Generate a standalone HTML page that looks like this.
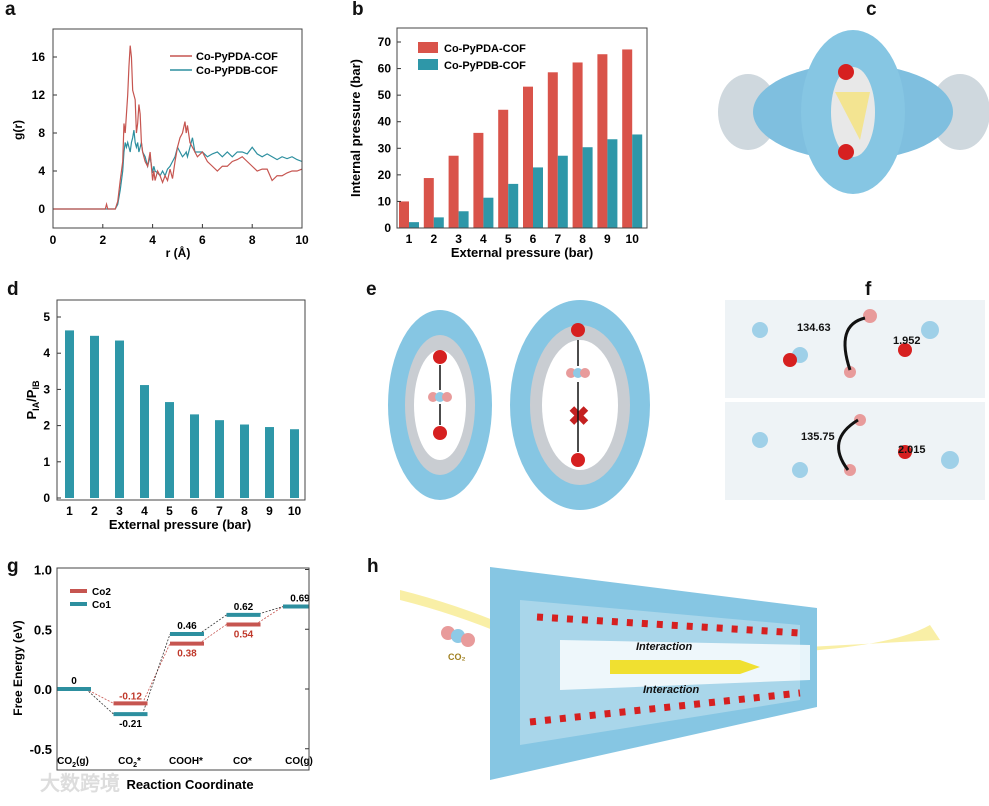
<!DOCTYPE html>
<html><head><meta charset="utf-8">
<style>
body{margin:0;background:#fff;width:989px;height:801px;overflow:hidden;font-family:"Liberation Sans",Arial,sans-serif}
svg text{font-family:"Liberation Sans",Arial,sans-serif;font-weight:bold}
</style></head>
<body>
<svg id="fig" width="989" height="801" viewBox="0 0 989 801" xmlns="http://www.w3.org/2000/svg">
<g id="labels" font-size="19" fill="#111">
<text x="5" y="15">a</text>
<text x="352" y="15">b</text>
<text x="866" y="15">c</text>
<text x="7" y="295">d</text>
<text x="366" y="295">e</text>
<text x="865" y="295">f</text>
<text x="7" y="572">g</text>
<text x="367" y="572">h</text>
</g>
<g id="pa"></g>
<g id="pb"></g>
<g id="pd"></g>
<g id="pg"></g>

<g>
<ellipse cx="748" cy="112" rx="30" ry="38" fill="#cfd8de"/>
<ellipse cx="960" cy="112" rx="30" ry="38" fill="#cfd8de"/>
<ellipse cx="853" cy="112" rx="100" ry="48" fill="#7fbfdf"/>
<ellipse cx="853" cy="112" rx="52" ry="82" fill="#86c6e3"/>
<ellipse cx="853" cy="112" rx="22" ry="45" fill="#e8e8e8"/>
<circle cx="846" cy="72" r="8" fill="#d62020"/><circle cx="846" cy="152" r="8" fill="#d62020"/>
<path d="M835 92 L860 140 L870 92 Z" fill="#f5e27a" opacity="0.8"/>
</g>
<g>
<ellipse cx="440" cy="405" rx="52" ry="95" fill="#86c6e3"/>
<ellipse cx="440" cy="405" rx="35" ry="70" fill="#c9cdd2"/>
<ellipse cx="440" cy="405" rx="26" ry="55" fill="#fff"/>
<circle cx="440" cy="357" r="7" fill="#d62020"/><circle cx="440" cy="433" r="7" fill="#d62020"/>
<circle cx="433" cy="397" r="5" fill="#e89b9b"/><circle cx="440" cy="397" r="5" fill="#8ecae6"/><circle cx="447" cy="397" r="5" fill="#e89b9b"/>
<line x1="440" y1="365" x2="440" y2="390" stroke="#111" stroke-width="1.5"/><line x1="440" y1="404" x2="440" y2="425" stroke="#111" stroke-width="1.5"/>
<ellipse cx="580" cy="405" rx="70" ry="105" fill="#86c6e3"/>
<ellipse cx="580" cy="405" rx="50" ry="80" fill="#c9cdd2"/>
<ellipse cx="580" cy="405" rx="38" ry="65" fill="#fff"/>
<circle cx="578" cy="330" r="7" fill="#d62020"/><circle cx="578" cy="460" r="7" fill="#d62020"/>
<circle cx="571" cy="373" r="5" fill="#e89b9b"/><circle cx="578" cy="373" r="5" fill="#8ecae6"/><circle cx="585" cy="373" r="5" fill="#e89b9b"/>
<text x="568" y="425" font-size="26" fill="#c42020">✖</text>
<line x1="578" y1="340" x2="578" y2="366" stroke="#111" stroke-width="1.5"/><line x1="578" y1="382" x2="578" y2="452" stroke="#111" stroke-width="1.5"/>
</g>
<g>
<rect x="725" y="300" width="260" height="98" fill="#eef3f6"/>
<rect x="725" y="402" width="260" height="98" fill="#eef3f6"/>
<g fill="#9fd0e8"><circle cx="760" cy="330" r="8"/><circle cx="800" cy="355" r="8"/><circle cx="930" cy="330" r="9"/><circle cx="760" cy="440" r="8"/><circle cx="800" cy="470" r="8"/><circle cx="950" cy="460" r="9"/></g>
<g fill="#d62020"><circle cx="790" cy="360" r="7"/><circle cx="905" cy="350" r="7"/><circle cx="905" cy="452" r="7"/></g>
<g fill="#e89b9b"><circle cx="870" cy="316" r="7"/><circle cx="850" cy="372" r="6"/><circle cx="860" cy="420" r="6"/><circle cx="850" cy="470" r="6"/></g>
<path d="M865 318 Q835 325 850 370" fill="none" stroke="#111" stroke-width="3"/>
<path d="M858 420 Q825 440 848 470" fill="none" stroke="#111" stroke-width="3"/>
<text x="797" y="331" font-size="11" fill="#111">134.63</text>
<text x="893" y="344" font-size="11" fill="#111">1.952</text>
<text x="801" y="440" font-size="11" fill="#111">135.75</text>
<text x="898" y="453" font-size="11" fill="#111">2.015</text>
</g>
<g>
<path d="M400 600 Q480 620 560 660 L940 640 L930 625 Q860 665 560 650 Q480 610 400 590 Z" fill="#f6e880" opacity="0.7"/>
<polygon points="490,567 817,608 817,707 490,780" fill="#86c6e3"/>
<polygon points="520,600 800,625 800,700 520,745" fill="#a9d6ea"/>
<g fill="#fff" opacity="0.8"><polygon points="560,640 810,645 810,680 560,690"/></g>
<line x1="537" y1="617" x2="800" y2="633" stroke="#d62020" stroke-width="7" stroke-dasharray="6 9"/>
<line x1="530" y1="722" x2="800" y2="693" stroke="#d62020" stroke-width="7" stroke-dasharray="6 9"/>
<polygon points="610,660 740,660 760,667 740,674 610,674" fill="#f0e030"/>
<circle cx="448" cy="633" r="7" fill="#e89b9b"/><circle cx="458" cy="636" r="7" fill="#8ecae6"/><circle cx="468" cy="640" r="7" fill="#e89b9b"/>
<text x="448" y="660" font-size="9" fill="#a08020" font-weight="normal">CO₂</text>
<text x="636" y="650" font-size="11" font-style="italic" fill="#111">Interaction</text>
<text x="643" y="693" font-size="11" font-style="italic" fill="#111">Interaction</text>
</g>
<g><text x="40" y="790" font-size="20" fill="#ddd" font-family="'Noto Sans CJK SC',sans-serif">大数跨境</text></g>
</svg>
<script>
const NS="http://www.w3.org/2000/svg";
function mk(parent,tag,attrs,name,text){const e=document.createElementNS(NS,tag);for(const k in attrs)e.setAttribute(k,attrs[k]);


if(text!==undefined)e.textContent=text;parent.appendChild(e);return e;}
const RED="#c65550",TEAL="#2d8f9f",BRED="#d9534a",BTEAL="#2e97a8";

const rA=[0,2.1,2.15,2.2,2.25,2.5,2.6,2.7,2.8,2.85,2.9,2.95,3.0,3.05,3.1,3.15,3.2,3.25,3.3,3.35,3.4,3.45,3.5,3.55,3.6,3.7,3.8,3.9,4.0,4.05,4.1,4.2,4.3,4.4,4.5,4.6,4.7,4.8,4.9,5.0,5.1,5.2,5.3,5.35,5.4,5.5,5.6,5.7,5.8,6.0,6.2,6.4,6.6,6.8,7.0,7.2,7.4,7.6,7.8,8.0,8.2,8.4,8.6,8.8,9.0,9.2,9.4,9.6,9.8,10];
const gPDA=[0,0,0.5,0,0,0,0.8,3,5,9,8,10,12,15,17.2,16,12.5,12,11.5,8,9,11,10,7,6,5,4.5,6,3,4,3,4,3.5,2.8,3.5,3,4.2,3.2,5,6.5,7.5,8,9.2,8,8.8,7,6.5,6,5.5,6,5,4.5,4,4.5,4.5,5,5.2,5.5,5,4.5,4,4.2,4.2,3,3.5,3.5,3.8,4,4,4.2];
const gPDB=[0,0,0,0,0,0,0.5,2,4,6,7,6.5,7,6.5,6,7,7.5,8.3,7,6.5,7,6,6.5,7,6,5.5,4.5,5.5,3.8,4.5,4,3.8,3.5,4,3.5,4.2,4.5,5,5.5,6.5,6,5.5,5.8,6,5.5,6.5,7.5,6,6,6,5.5,5.8,6,5.5,6,5.5,6,6,5.8,6.5,5.8,5.5,5.8,5.5,5.2,5.5,5.3,5.5,5.2,5];
const aXt=[0,2,4,6,8,10], aYt=[0,4,8,12,16];
(function(){const g=document.getElementById('pa');const x0=53,x1=302,y0=29,y1=228;
const X=v=>x0+(x1-x0)*v/10, Y=v=>209-v*9.5;
aXt.forEach(t=>{mk(g,'line',{x1:X(t),x2:X(t),y1:y1,y2:y1-4,stroke:'#333'},'x-tick');mk(g,'text',{x:X(t),y:y1+16,'font-size':12,'text-anchor':'middle'},'x-tick-label',t);});
aYt.forEach(t=>{mk(g,'line',{x1:x0,x2:x0+4,y1:Y(t),y2:Y(t),stroke:'#333'},'y-tick');mk(g,'text',{x:x0-8,y:Y(t)+4,'font-size':12,'text-anchor':'end'},'y-tick-label',t);});
const p1=rA.map((r,i)=>X(r)+','+Y(gPDA[i])).join(' '),p2=rA.map((r,i)=>X(r)+','+Y(gPDB[i])).join(' ');
mk(g,'polyline',{points:p2,fill:'none',stroke:TEAL,'stroke-width':1.2},'series-co-pypdb-cof');
mk(g,'polyline',{points:p1,fill:'none',stroke:RED,'stroke-width':1.2},'series-co-pypda-cof');
mk(g,'rect',{x:x0,y:y0,width:x1-x0,height:y1-y0,fill:'none',stroke:'#444','stroke-width':1},'plot-frame');
mk(g,'line',{x1:170,x2:192,y1:56,y2:56,stroke:RED,'stroke-width':1.5},'legend-swatch-pypda');
mk(g,'text',{x:196,y:60,'font-size':11},'legend-label-pypda','Co-PyPDA-COF');
mk(g,'line',{x1:170,x2:192,y1:70,y2:70,stroke:TEAL,'stroke-width':1.5},'legend-swatch-pypdb');
mk(g,'text',{x:196,y:74,'font-size':11},'legend-label-pypdb','Co-PyPDB-COF');
mk(g,'text',{x:178,y:257,'font-size':12,'text-anchor':'middle'},'x-axis-title','r (Å)');
mk(g,'text',{x:22,y:130,'font-size':12,'text-anchor':'middle',transform:'rotate(-90 22 130)'},'y-axis-title','g(r)');
})();

const bCats=[1,2,3,4,5,6,7,8,9,10];
const bPDA=[10,18.8,27.2,35.8,44.5,53.2,58.6,62.3,65.4,67.2];
const bPDB=[2.2,4,6.3,11.4,16.6,22.8,27.2,30.4,33.4,35.2];
const bYt=[0,10,20,30,40,50,60,70];
(function(){const g=document.getElementById('pb');const x0=397,x1=647,y0=28,y1=228;
const Y=v=>y1-v*2.657, C=i=>x0+12+i*24.8;
bCats.forEach((c,i)=>{mk(g,'rect',{x:C(i)-10,y:Y(bPDA[i]),width:10,height:y1-Y(bPDA[i]),fill:BRED},'bar-pypda-'+c);
mk(g,'rect',{x:C(i),y:Y(bPDB[i]),width:10,height:y1-Y(bPDB[i]),fill:BTEAL},'bar-pypdb-'+c);
mk(g,'text',{x:C(i),y:y1+15,'font-size':12,'text-anchor':'middle'},'x-tick-label',c);});
bYt.forEach(t=>{mk(g,'line',{x1:x0,x2:x0+4,y1:Y(t),y2:Y(t),stroke:'#333'},'y-tick');mk(g,'text',{x:x0-6,y:Y(t)+4,'font-size':12,'text-anchor':'end'},'y-tick-label',t);});
mk(g,'rect',{x:x0,y:y0,width:x1-x0,height:y1-y0,fill:'none',stroke:'#444'},'plot-frame');
mk(g,'rect',{x:418,y:42,width:20,height:11,fill:BRED},'legend-swatch-pypda');
mk(g,'text',{x:444,y:52,'font-size':11},'legend-label-pypda','Co-PyPDA-COF');
mk(g,'rect',{x:418,y:59,width:20,height:11,fill:BTEAL},'legend-swatch-pypdb');
mk(g,'text',{x:444,y:69,'font-size':11},'legend-label-pypdb','Co-PyPDB-COF');
mk(g,'text',{x:522,y:257,'font-size':13,'text-anchor':'middle'},'x-axis-title','External pressure (bar)');
mk(g,'text',{x:360,y:128,'font-size':13,'text-anchor':'middle',transform:'rotate(-90 360 128)'},'y-axis-title','Internal pressure (bar)');
})();

const dCats=[1,2,3,4,5,6,7,8,9,10];
const dRatio=[4.63,4.48,4.35,3.12,2.65,2.31,2.15,2.03,1.96,1.9];
const dYt=[0,1,2,3,4,5];
(function(){const g=document.getElementById('pd');const x0=57,x1=305,y0=300,y1=500;
const Y=v=>498-v*36.2, C=i=>x0+12.5+i*25;
dCats.forEach((c,i)=>{mk(g,'rect',{x:C(i)-4.5,y:Y(dRatio[i]),width:9,height:498-Y(dRatio[i]),fill:BTEAL},'bar-ratio-'+c);
mk(g,'text',{x:C(i),y:y1+15,'font-size':12,'text-anchor':'middle'},'x-tick-label',c);});
dYt.forEach(t=>{mk(g,'line',{x1:x0,x2:x0+4,y1:Y(t),y2:Y(t),stroke:'#333'},'y-tick');mk(g,'text',{x:x0-7,y:Y(t)+4,'font-size':12,'text-anchor':'end'},'y-tick-label',t);});
mk(g,'rect',{x:x0,y:y0,width:x1-x0,height:y1-y0,fill:'none',stroke:'#444'},'plot-frame');
mk(g,'text',{x:180,y:529,'font-size':13,'text-anchor':'middle'},'x-axis-title','External pressure (bar)');
const t=mk(g,'text',{x:36,y:400,'font-size':13,'text-anchor':'middle',transform:'rotate(-90 36 400)'},'y-axis-title','P');
mk(t,'tspan',{'font-size':9,dy:3},'subscript','IA');mk(t,'tspan',{dy:-3},'slash','/P');mk(t,'tspan',{'font-size':9,dy:3},'subscript','IB');
})();

const gSteps=['CO2(g)','CO2*','COOH*','CO*','CO(g)'];
const gCo2=[0,-0.12,0.38,0.54,0.69];
const gCo1=[0,-0.21,0.46,0.62,0.69];
const gYt=[1.0,0.5,0.0,-0.5];
(function(){const g=document.getElementById('pg');const x0=57,x1=309,y0=568,y1=770;
const Y=v=>689-v*119.5, L=i=>x0+i*56.5, W=29;
for(let i=0;i<4;i++){mk(g,'line',{x1:L(i)+W,y1:Y(gCo2[i]),x2:L(i+1),y2:Y(gCo2[i+1]),stroke:RED,'stroke-width':0.8,'stroke-dasharray':'2 1.5'},'connector-co2');
mk(g,'line',{x1:L(i)+W,y1:Y(gCo1[i]),x2:L(i+1),y2:Y(gCo1[i+1]),stroke:'#333','stroke-width':0.8,'stroke-dasharray':'2 1.5'},'connector-co1');}
gSteps.forEach((s,i)=>{
 if(i>0&&i<4){mk(g,'line',{x1:L(i),x2:L(i)+W+5,y1:Y(gCo2[i]),y2:Y(gCo2[i]),stroke:RED,'stroke-width':4},'level-co2-'+i);
 mk(g,'text',{x:L(i)+17,y:Y(gCo2[i])+(gCo2[i]<gCo1[i]?13:-4),'font-size':10,fill:'#c0392b','text-anchor':'middle'},'value-co2',gCo2[i].toFixed(2));}
 mk(g,'line',{x1:L(i),x2:Math.min(L(i)+W+5,x1),y1:Y(gCo1[i]),y2:Y(gCo1[i]),stroke:TEAL,'stroke-width':4},'level-co1-'+i);
 const lbl=i==0?'0':gCo1[i].toFixed(2);
 mk(g,'text',{x:L(i)+17,y:Y(gCo1[i])+(i>0&&i<4&&gCo1[i]<gCo2[i]?13:-5),'font-size':10,'text-anchor':'middle'},'value-co1',lbl);
});
const names=[['CO','2','(g)'],['CO','2','*'],['COOH*','',''],['CO*','',''],['CO(g)','','']];
names.forEach((n,i)=>{const t=mk(g,'text',{x:L(i)+16,y:764,'font-size':10,'text-anchor':'middle'},'x-category-label',n[0]);
 if(n[1]){mk(t,'tspan',{'font-size':7,dy:3},'subscript',n[1]);mk(t,'tspan',{dy:-3},'suffix',n[2]);}});
gYt.forEach(t=>{mk(g,'line',{x1:x1,x2:x1-4,y1:Y(t),y2:Y(t),stroke:'#333'},'y-tick');mk(g,'text',{x:x0-5,y:Y(t)+5,'font-size':13,'text-anchor':'end'},'y-tick-label',t.toFixed(1));});
mk(g,'rect',{x:x0,y:y0,width:x1-x0,height:y1-y0,fill:'none',stroke:'#444'},'plot-frame');
mk(g,'line',{x1:70,x2:87,y1:591,y2:591,stroke:RED,'stroke-width':4},'legend-swatch-co2');
mk(g,'text',{x:92,y:595,'font-size':10},'legend-label-co2','Co2');
mk(g,'line',{x1:70,x2:87,y1:604,y2:604,stroke:TEAL,'stroke-width':4},'legend-swatch-co1');
mk(g,'text',{x:92,y:608,'font-size':10},'legend-label-co1','Co1');
mk(g,'text',{x:190,y:789,'font-size':13,'text-anchor':'middle'},'x-axis-title','Reaction Coordinate');
mk(g,'text',{x:22,y:668,'font-size':12,'text-anchor':'middle',transform:'rotate(-90 22 668)'},'y-axis-title','Free Energy (eV)');
})();
</script>
</body></html>
